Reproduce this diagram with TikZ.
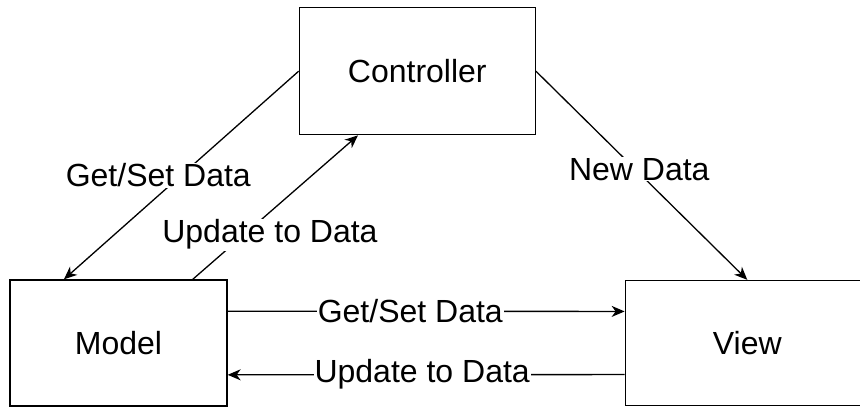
\documentclass[tikz,border=0pt]{standalone}
\usepackage{fontspec}
\setmainfont{Liberation Sans}
\usetikzlibrary{positioning,arrows.meta,calc}

\begin{document}
\begin{tikzpicture}[
  x=1pt, y=-1pt,
  font=\fontsize{32}{38}\selectfont,
  mybox/.style={draw,rectangle,line width=1.3pt,inner sep=0pt},
  mylabel/.style={fill=white,inner sep=1pt},
  myarrow/.style={line width=1.3pt,-{Stealth[length=13pt,width=11pt,inset=4pt]}}
]
\useasboundingbox (0,0) rectangle (860,407);

\node[mybox,minimum width=217pt,minimum height=126pt] (model) at (118.5,343) {Model};
\node[mybox,minimum width=236pt,minimum height=127pt,above right=144pt and 71pt of model] (ctrl) {Controller};
\node[mybox,minimum width=244pt,minimum height=125pt,right=397pt of model] (view) {View};

% end points on the box sides
\coordinate (mtopa) at ($(model.north west)!0.25!(model.north east)$);
\coordinate (mtopb) at ($(model.north west)!0.84!(model.north east)$);
\coordinate (cbot) at ($(ctrl.south west)!0.25!(ctrl.south east)$);
\coordinate (mright1) at ($(model.north east)!0.25!(model.south east)$);
\coordinate (mright2) at ($(model.north east)!0.75!(model.south east)$);
\coordinate (vleft1) at ($(view.north west)!0.25!(view.south west)$);
\coordinate (vleft2) at ($(view.north west)!0.75!(view.south west)$);

\path (ctrl.west) edge[myarrow] node[mylabel,xshift=-23pt]{Get/Set Data} (mtopa)
(mtopb) edge[myarrow] node[mylabel,pos=0.31,xshift=26pt]{Update to Data} (cbot)
(ctrl.east) edge[myarrow] node[mylabel,pos=0.47,xshift=4pt]{New Data} (view.north)
(mright1) edge[myarrow] node[mylabel,pos=0.46]{Get/Set Data} (vleft1)
(vleft2) edge[myarrow] node[mylabel,pos=0.51]{Update to Data} (mright2);
\end{tikzpicture}
\end{document}
